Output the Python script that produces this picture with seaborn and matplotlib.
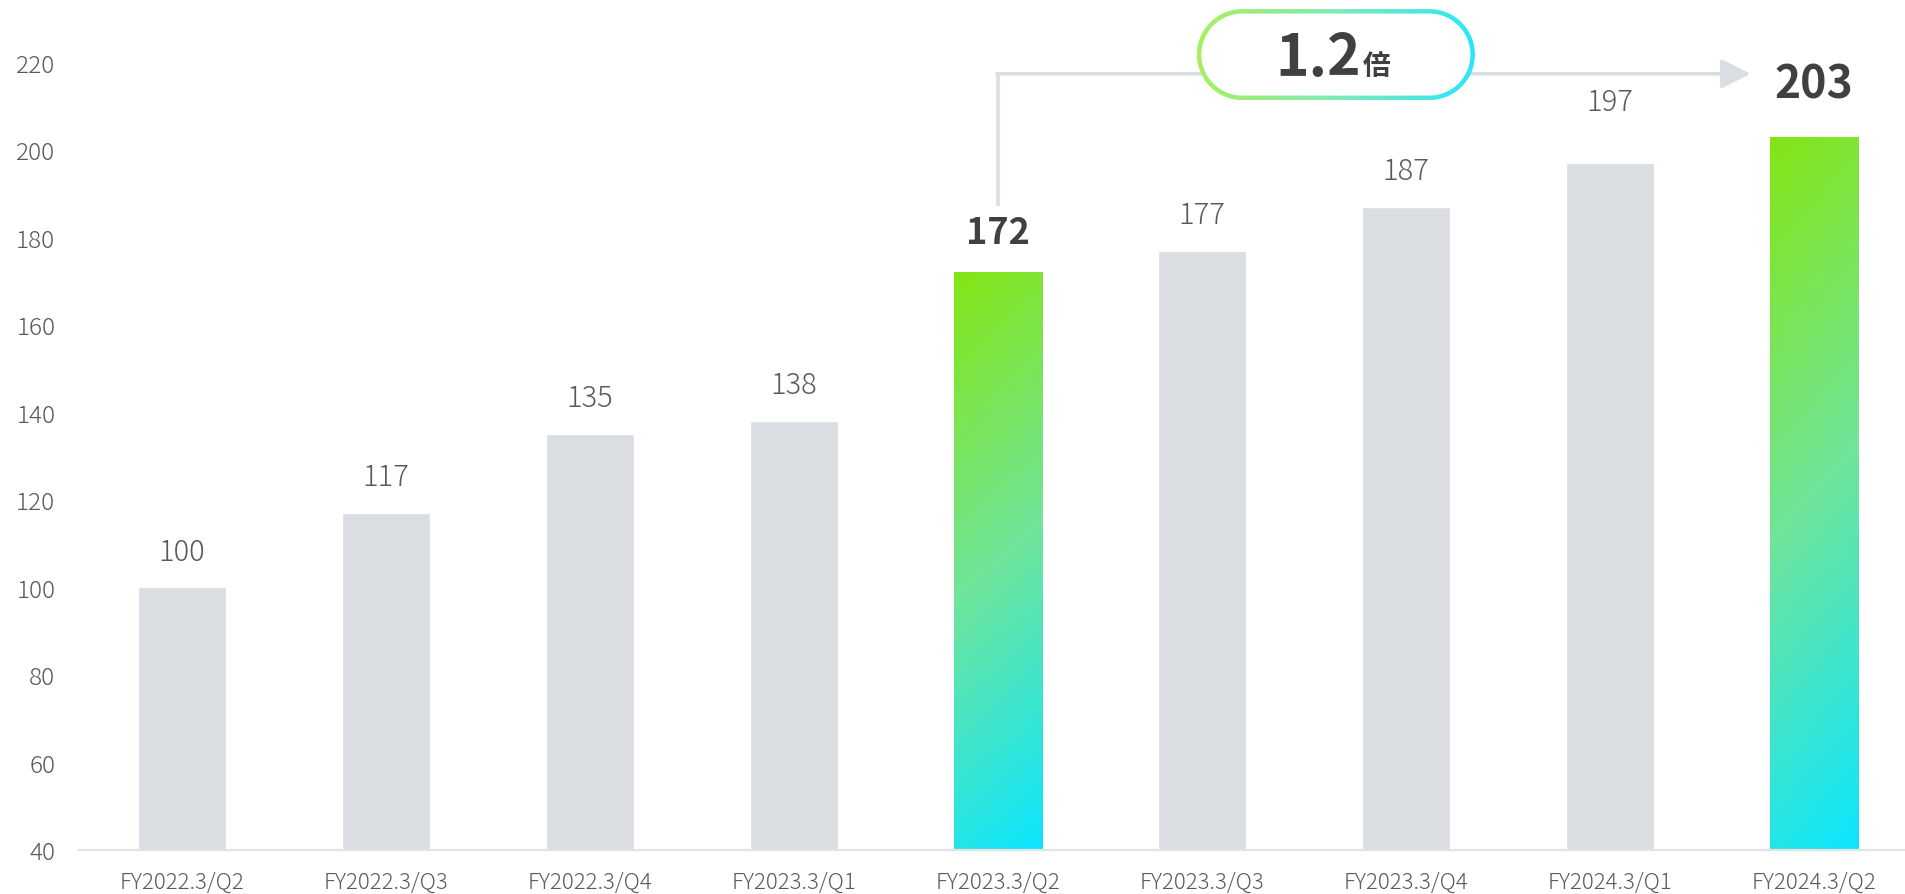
import numpy as np
import matplotlib
matplotlib.use('Agg')
import matplotlib.pyplot as plt
from matplotlib.patches import Polygon
from matplotlib.colors import LinearSegmentedColormap
import seaborn as sns

periods = ['FY2022.3/Q2', 'FY2022.3/Q3', 'FY2022.3/Q4', 'FY2023.3/Q1', 'FY2023.3/Q2',
           'FY2023.3/Q3', 'FY2023.3/Q4', 'FY2024.3/Q1', 'FY2024.3/Q2']
values = [100, 117, 135, 138, 172, 177, 187, 197, 203]
highlight = [False, False, False, False, True, False, False, False, True]
growth_text = '1.2'
growth_unit = '倍'

GREY = '#dadde2'
TXT = '#595959'
DARK = '#404040'
bar_grad = LinearSegmentedColormap.from_list('bar', ['#84e614', '#70e49a', '#0be6ff'])
ring_grad = LinearSegmentedColormap.from_list('ring', ['#a8f060', '#80eab8', '#2ae6fa'])

sns.set_style('white')
plt.rcParams['font.family'] = ['Noto Sans CJK JP', 'DejaVu Sans']


def stadium(x0, y0, w, h):
    # pill outline with true semicircular ends
    r = h / 2
    a = np.linspace(np.pi / 2, 3 * np.pi / 2, 60)
    left = np.column_stack([x0 + r + r * np.cos(a), y0 + r + r * np.sin(a)])
    b = np.linspace(-np.pi / 2, np.pi / 2, 60)
    right = np.column_stack([x0 + w - r + r * np.cos(b), y0 + r + r * np.sin(b)])
    return np.vstack([left, right])


fig = plt.figure(figsize=(19.06, 8.95), dpi=100)
ax = fig.add_axes([0.0414, 0.0492, 0.9586, 0.9508])

colors = ['#ffffff' if h else GREY for h in highlight]
sns.barplot(x=periods, y=values, hue=periods, palette=colors, width=0.435,
            legend=False, saturation=1, ax=ax)

ymin, ymax = 40, 234.5

# gradient fill for the highlighted bars
yy, xx = np.mgrid[0:1:300j, 0:1:60j]
grad = 0.88 * (1 - yy) + 0.12 * xx
for patch, h, v in zip(ax.patches, highlight, values):
    if not h:
        continue
    x0 = patch.get_x()
    w = patch.get_width()
    patch.set_facecolor('none')
    im = ax.imshow(grad, cmap=bar_grad, extent=(x0, x0 + w, ymin, v), origin='lower',
                   aspect='auto', zorder=2, interpolation='bilinear', vmin=0, vmax=1)
    im.set_clip_path(patch)

ax.set_ylim(ymin, ymax)
ax.set_xlim(-0.505, 8.451)

# value labels
for i, (v, h) in enumerate(zip(values, highlight)):
    if h:
        size = 32 if i == len(values) - 1 else 26
        off = 38 if i == len(values) - 1 else 29
        ax.annotate(str(v), (i, v), xytext=(0, off), textcoords='offset points',
                    ha='center', va='center', fontsize=size, fontweight='bold', color=DARK)
    else:
        off = 44 if i == 7 else 26
        ax.annotate(str(v), (i, v), xytext=(0, off), textcoords='offset points',
                    ha='center', va='center', fontsize=21, fontweight='light', color=TXT)

# connector arrow from 172 to 203
line_y = 217.4
ax.plot([4, 4], [187.2, line_y], color=GREY, lw=2.6, solid_capstyle='butt', zorder=3)
ax.annotate('', xy=(7.69, line_y), xytext=(4 - 0.006, line_y),
            arrowprops=dict(arrowstyle='-|>,head_length=0.9,head_width=0.45',
                            mutation_scale=20, color=GREY, lw=2.6,
                            shrinkA=0, shrinkB=0), zorder=3)

# pill badge with gradient outline
px0, pw = 4.975, 1.363
py0, ph = 211.4, 20.8
pax = ax.inset_axes([px0, py0, pw, ph], transform=ax.transData, zorder=5)
fig.canvas.draw()
bb = pax.get_window_extent()
wpx, hpx = bb.width, bb.height
pax.axis('off')
outer = Polygon(stadium(0, 0, wpx, hpx), closed=True, facecolor='none', edgecolor='none')
pax.add_patch(outer)
ring = pax.imshow(np.linspace(0, 1, 200)[None, :], cmap=ring_grad, extent=(0, wpx, 0, hpx),
                  aspect='auto', interpolation='bilinear')
ring.set_clip_path(outer)
t = 4.5
inner = Polygon(stadium(t, t, wpx - 2 * t, hpx - 2 * t), closed=True,
                facecolor='white', edgecolor='none', zorder=3)
pax.add_patch(inner)
pax.set_xlim(0, wpx)
pax.set_ylim(0, hpx)
pax.text(wpx * 0.59, 25, growth_text, ha='right', va='baseline', fontsize=41,
         fontweight='bold', color=DARK, zorder=4)
pax.text(wpx * 0.598, 26, growth_unit, ha='left', va='baseline', fontsize=20,
         fontweight='bold', color=DARK, zorder=4)

# axes styling
ax.set_yticks(range(40, 221, 20))
ax.tick_params(axis='y', length=0, pad=17, labelsize=17.5, labelcolor=TXT)
ax.tick_params(axis='x', length=0, pad=15, labelsize=16, labelcolor=TXT)
for lab in ax.get_xticklabels() + ax.get_yticklabels():
    lab.set_fontweight('light')
ax.set_xlabel('')
ax.set_ylabel('')
for s in ['top', 'right', 'left']:
    ax.spines[s].set_visible(False)
ax.spines['bottom'].set_color('#e3e3e3')
ax.spines['bottom'].set_linewidth(1.6)
ax.spines['bottom'].set_zorder(4)

fig.savefig('out.png', dpi=100)
